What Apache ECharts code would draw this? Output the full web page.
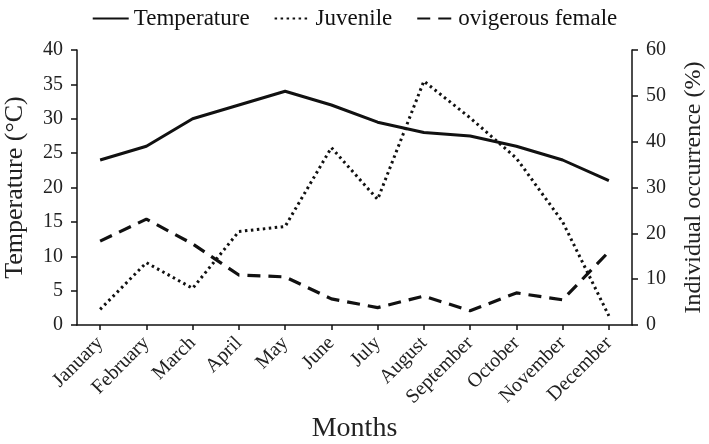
<!DOCTYPE html>
<html>
<head>
<meta charset="utf-8">
<script src="https://cdn.jsdelivr.net/npm/echarts@6/dist/echarts.min.js"></script>
<style>html,body{margin:0;padding:0;background:#fff;}#c{width:709px;height:444px;}</style>
</head>
<body>
<div id="c"></div>
<script>
const months = ['January','February','March','April','May','June','July','August','September','October','November','December'];
const temperature = [24, 26, 30, 32, 34, 32, 29.5, 28, 27.5, 26, 24, 21];
const juvenile = [3.4, 13.6, 8.0, 20.4, 21.5, 38.7, 27.4, 53.2, 45.2, 36.4, 22.5, 2.0];
const ovigerous = [18.3, 23.1, 17.7, 10.9, 10.5, 5.7, 3.8, 6.3, 3.1, 7.0, 5.5, 16.0];
const leftTicks = [0, 5, 10, 15, 20, 25, 30, 35, 40];
const rightTicks = [0, 10, 20, 30, 40, 50, 60];

const FONT = '"Liberation Serif", "Times New Roman", serif';
const ink = '#111';
const txt = '#222';
const chart = echarts.init(document.getElementById('c'), null, {renderer: 'canvas'});
const axisCommon = {
  axisLine: {show: true, lineStyle: {color: ink, width: 1.5}},
  axisTick: {show: true, inside: false, length: 6, lineStyle: {color: ink, width: 1.5}},
  splitLine: {show: false},
  axisLabel: {color: txt, fontFamily: FONT, fontSize: 20, margin: 14}
};
chart.setOption({
  animation: false,
  backgroundColor: '#fff',
  legend: {
    top: 2,
    left: 'center',
    itemWidth: 36,
    itemHeight: 14,
    itemGap: 24,
    itemStyle: {opacity: 0},
    textStyle: {color: '#111', fontFamily: FONT, fontSize: 23},
    data: ['Temperature', 'Juvenile', 'ovigerous female']
  },
  grid: {left: 77, right: 77, top: 50, bottom: 119, containLabel: false, outerBoundsMode: 'none'},
  xAxis: {
    type: 'category',
    data: months,
    boundaryGap: true,
    name: 'Months',
    nameLocation: 'middle',
    nameGap: 87,
    ...axisCommon,
    axisTick: {show: true, alignWithLabel: true, length: 5, lineStyle: {color: ink, width: 1.5}},
    axisLabel: {color: txt, fontFamily: FONT, fontSize: 20, rotate: 45, margin: 15, interval: 0},
    nameTextStyle: {color: txt, fontFamily: FONT, fontSize: 28}
  },
  yAxis: [
    {
      type: 'value', min: leftTicks[0], max: leftTicks[leftTicks.length - 1], interval: 5,
      position: 'left',
      name: 'Temperature (°C)', nameLocation: 'middle', nameGap: 49, nameRotate: 90,
      ...axisCommon,
      nameTextStyle: {color: txt, fontFamily: FONT, fontSize: 26}
    },
    {
      type: 'value', min: rightTicks[0], max: rightTicks[rightTicks.length - 1], interval: 10,
      position: 'right',
      name: 'Individual occurrence (%)', nameLocation: 'middle', nameGap: 50, nameRotate: 90,
      ...axisCommon,
      nameTextStyle: {color: txt, fontFamily: FONT, fontSize: 24}
    }
  ],
  series: [
    {name: 'Temperature', type: 'line', yAxisIndex: 0, data: temperature, symbol: 'none',
     lineStyle: {color: ink, width: 3, type: 'solid'}, itemStyle: {color: ink}},
    {name: 'Juvenile', type: 'line', yAxisIndex: 1, data: juvenile, symbol: 'none',
     lineStyle: {color: ink, width: 3, type: [2.5, 3.5]}, itemStyle: {color: ink}},
    {name: 'ovigerous female', type: 'line', yAxisIndex: 1, data: ovigerous, symbol: 'none',
     lineStyle: {color: ink, width: 3.2, type: [13, 8]}, itemStyle: {color: ink}}
  ]
});
</script>
</body>
</html>
